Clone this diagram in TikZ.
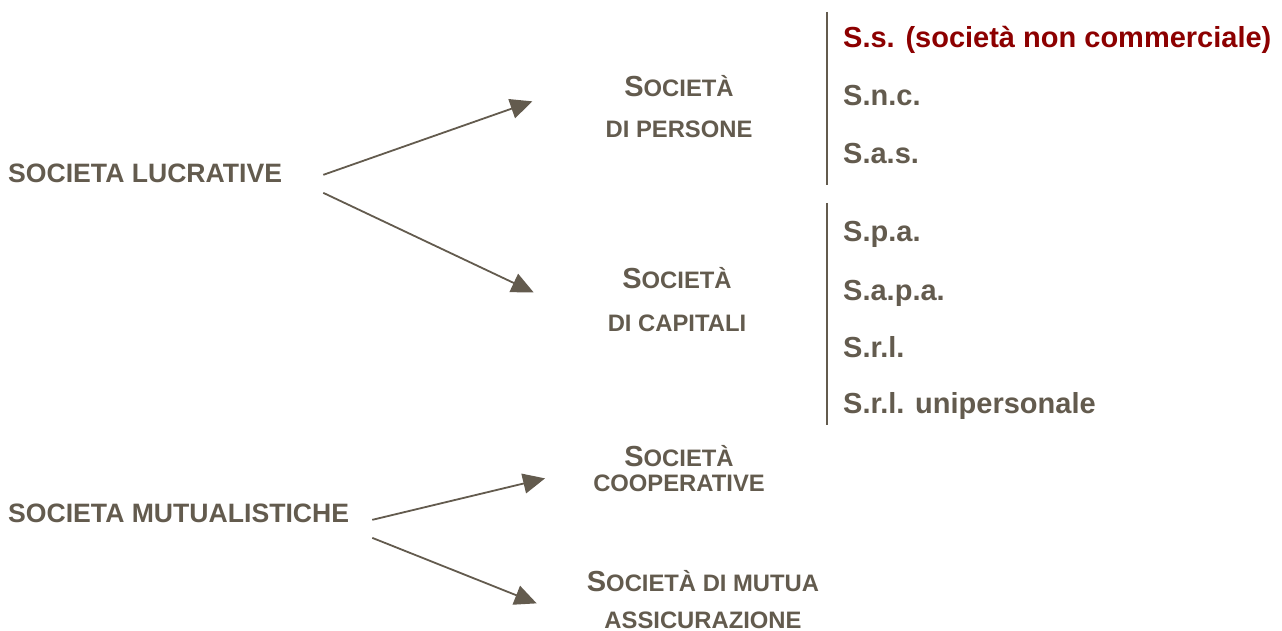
\documentclass[tikz,border=0pt]{standalone}
\usepackage{fontspec}
\setmainfont{Liberation Sans}
\usetikzlibrary{arrows.meta}

\definecolor{ink}{RGB}{99,91,78}
\definecolor{wine}{RGB}{140,0,0}
\newcommand{\societa}{{\fontsize{29}{30}\selectfont S}OCIET\`A}

\tikzset{
  group/.style = {anchor=base west, inner sep=0pt, text=ink,
                  font=\fontsize{26.6}{31}\selectfont\bfseries},
  kind/.style  = {anchor=north, inner sep=0pt, text=ink, align=center,
                  font=\fontsize{23.8}{28}\selectfont\bfseries},
  form/.style  = {anchor=base west, inner sep=0pt, text=ink,
                  font=\fontsize{29}{34}\selectfont\bfseries},
  link/.style  = {draw=ink, line width=1.8pt, -{Triangle[length=22pt, width=20pt]}},
  bar/.style   = {draw=ink, line width=1.8pt}
}

\begin{document}
\begin{tikzpicture}[x=1pt, y=-1pt]
    \useasboundingbox (0,0) rectangle (1282,631);
    \node[group] (lucrative)   at (8, 183) {SOCIETA LUCRATIVE};
    \node[group] (mutualistic) at (8, 522) {SOCIETA MUTUALISTICHE};

    \node[kind] (persone)    at (679, 75)  {\societa\\[13pt]DI PERSONE};
    \node[kind] (capitali)   at (677, 267) {\societa\\[15pt]DI CAPITALI};
    \node[kind] (cooperative) at (679, 445) {\societa\\[-3pt]COOPERATIVE};
    \node[kind] (mutua)      at (703, 570) {\societa{} DI MUTUA\\[9pt]ASSICURAZIONE};

    \begin{scope}[every node/.style = {form}]
      \node[text=wine] (ss) at (843, 48)  {S.s. (societ\`a non commerciale)};
      \node (snc)  at (843, 106) {S.n.c.};
      \node (sas)  at (843, 164) {S.a.s.};
      \node (spa)  at (843, 241) {S.p.a.};
      \node (sapa) at (843, 300) {S.a.p.a.};
      \node (srl)  at (843, 357) {S.r.l.};
      \node (srlu) at (843, 413) {S.r.l. unipersonale};
    \end{scope}

    \begin{scope}[bar]
      \draw (827, 12)  to (827, 185);
      \draw (827, 203) to (827, 425);
    \end{scope}

    \draw[link] ([shift={(41,1)}]lucrative.east)   to ([shift={(-73,-5)}]persone.west);
    \draw[link] ([shift={(41,19)}]lucrative.east)  to ([shift={(-74,-7)}]capitali.west);
    \draw[link] ([shift={(23,7)}]mutualistic.east) to ([shift={(-48,10)}]cooperative.west);
    \draw[link] ([shift={(23,25)}]mutualistic.east) to ([shift={(-50,4)}]mutua.west);
\end{tikzpicture}
\end{document}
